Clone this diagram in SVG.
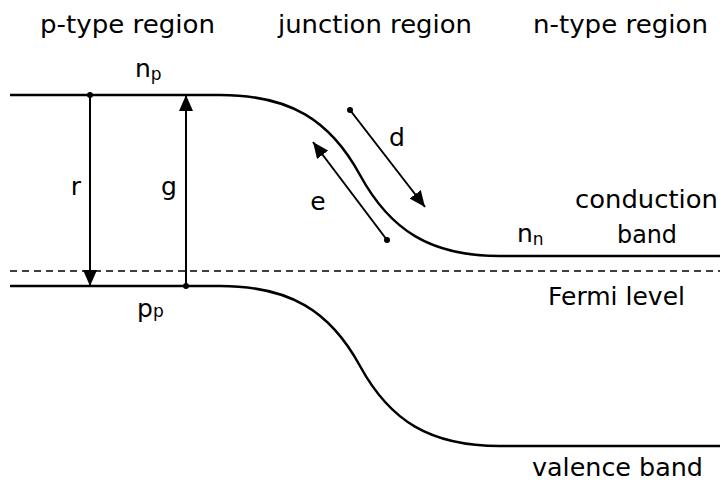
<svg xmlns="http://www.w3.org/2000/svg" width="720" height="481" viewBox="0 0 720 481">
<defs>
<marker id="ah" viewBox="0 0 16 14" refX="16" refY="7" markerWidth="16" markerHeight="14" markerUnits="userSpaceOnUse" orient="auto"><path d="M0,0 L16,7 L0,14 z" fill="#000"/></marker>
<style>
.band{fill:none;stroke:#000;stroke-width:2.5}
.arr{fill:none;stroke:#000;stroke-width:2;marker-end:url(#ah)}
.lbl{font-family:"DejaVu Sans",Verdana,sans-serif;font-size:25px;fill:#000}
.sub{font-size:17px}
.dot{fill:#000}
</style>
</defs>
<rect width="720" height="481" fill="#fff"/>
<g id="labels-top">
<text class="lbl" x="40" y="33" textLength="175" lengthAdjust="spacingAndGlyphs">p-type region</text>
<text class="lbl" x="278" y="33" textLength="194" lengthAdjust="spacingAndGlyphs">junction region</text>
<text class="lbl" x="533" y="33" textLength="175" lengthAdjust="spacingAndGlyphs">n-type region</text>
</g>
<g id="conduction-band">
<path class="band" d="M10,95 H220 C290,95 330,120 360,175 C390,230 430,256 500,256 H720"/>
</g>
<g id="valence-band">
<path class="band" d="M10,286 H220 C290,286 330,311 360,366 C390,421 430,446 500,446 H720"/>
</g>
<g id="fermi-level">
<line x1="10" y1="271" x2="720" y2="271" stroke="#000" stroke-width="1.5" stroke-dasharray="7,5"/>
</g>
<g id="connectors">
<g id="arrow-r"><line class="arr" x1="90" y1="95" x2="90" y2="286"/><circle class="dot" cx="90" cy="95" r="3"/></g>
<g id="arrow-g"><line class="arr" x1="186" y1="286" x2="186" y2="95"/><circle class="dot" cx="186" cy="286" r="3"/></g>
<g id="arrow-d"><line class="arr" x1="350" y1="110" x2="425" y2="207"/><circle class="dot" cx="350" cy="110" r="3"/></g>
<g id="arrow-e"><line class="arr" x1="387" y1="240" x2="313" y2="142"/><circle class="dot" cx="387" cy="240" r="3"/></g>
</g>
<g id="label-r"><text class="lbl" x="76" y="195" text-anchor="middle">r</text></g>
<g id="label-g"><text class="lbl" x="169" y="195" text-anchor="middle">g</text></g>
<g id="label-d"><text class="lbl" x="397" y="146" text-anchor="middle">d</text></g>
<g id="label-e"><text class="lbl" x="318" y="210" text-anchor="middle">e</text></g>
<g id="label-np"><text class="lbl" x="135" y="77">n<tspan class="sub" dy="3">p</tspan></text></g>
<g id="label-pp"><text class="lbl" x="137" y="317">p<tspan class="sub">p</tspan></text></g>
<g id="label-nn"><text class="lbl" x="517" y="242">n<tspan class="sub" dy="3">n</tspan></text></g>
<g id="label-conduction">
<text class="lbl" x="575" y="208" textLength="143" lengthAdjust="spacingAndGlyphs">conduction</text>
<text class="lbl" x="617" y="243" textLength="60" lengthAdjust="spacingAndGlyphs">band</text>
</g>
<g id="label-fermi"><text class="lbl" x="548" y="305" textLength="137" lengthAdjust="spacingAndGlyphs">Fermi level</text></g>
<g id="label-valence"><text class="lbl" x="532" y="476" textLength="171" lengthAdjust="spacingAndGlyphs">valence band</text></g>
</svg>
